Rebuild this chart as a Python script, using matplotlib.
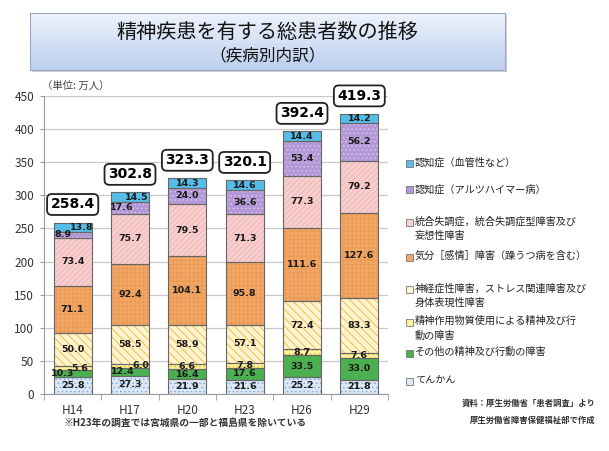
import numpy as np
import matplotlib.pyplot as plt
from matplotlib.patches import Rectangle
from matplotlib.colors import LinearSegmentedColormap

plt.rcParams['font.family'] = ['Noto Sans CJK JP', 'DejaVu Sans']
plt.rcParams['hatch.linewidth'] = 0.6

# data (単位: 万人), stacked bottom -> top
years = ['H14', 'H17', 'H20', 'H23', 'H26', 'H29']
totals = [258.4, 302.8, 323.3, 320.1, 392.4, 419.3]

epilepsy = [25.8, 27.3, 21.9, 21.6, 25.2, 21.8]
other_disorders = [10.3, 12.4, 16.4, 17.6, 33.5, 33.0]
substance = [5.6, 6.0, 6.6, 7.8, 8.7, 7.6]
neurotic = [50.0, 58.5, 58.9, 57.1, 72.4, 83.3]
mood = [71.1, 92.4, 104.1, 95.8, 111.6, 127.6]
schizo = [73.4, 75.7, 79.5, 71.3, 77.3, 79.2]
alzheimer = [8.9, 17.6, 24.0, 36.6, 53.4, 56.2]
vascular = [13.8, 14.5, 14.3, 14.6, 14.4, 14.2]

names = [
    'てんかん',
    'その他の精神及び行動の障害',
    '精神作用物質使用による精神及び行\n動の障害',
    '神経症性障害，ストレス関連障害及び\n身体表現性障害',
    '気分［感情］障害（躁うつ病を含む）',
    '統合失調症，統合失調症型障害及び\n妄想性障害',
    '認知症（アルツハイマー病）',
    '認知症（血管性など）',
]

# (values, face, hatch, hatch colour)
series = [
    (epilepsy, '#dce8f6', '....', '#7fa8d8'),
    (other_disorders, '#4caf50', '', '#4caf50'),
    (substance, '#fff3a0', '....', '#f0c020'),
    (neurotic, '#fff4d0', '\\\\\\\\', '#f2b630'),
    (mood, '#f2a766', '++++', '#e99a52'),
    (schizo, '#f8cfcf', '//////', '#efb2b2'),
    (alzheimer, '#b497d6', '....', '#d6c6ee'),
    (vascular, '#55bde8', '', '#55bde8'),
]

# small sideways nudges so the labels of thin segments don't collide
# (series index, bar index) -> shift in bar units
label_shift = {(1, 0): -0.17, (2, 0): 0.12, (6, 0): -0.17, (7, 0): 0.15,
               (1, 1): -0.13, (2, 1): 0.18, (6, 1): -0.14, (7, 1): 0.12}

fig = plt.figure(figsize=(6.09, 4.51), dpi=100)

# title box with a soft blue gradient
shadow = Rectangle((32 / 609, 1 - 72 / 451), 475 / 609, 57 / 451,
                   transform=fig.transFigure, facecolor='#cfcfcf', edgecolor='none', zorder=-1)
fig.patches.append(shadow)
tax = fig.add_axes([30 / 609, 1 - 70 / 451, 475 / 609, 57 / 451])
grad = np.linspace(0, 1, 100).reshape(-1, 1)
cmap = LinearSegmentedColormap.from_list('tb', ['#eef3fc', '#bccfef'])
tax.imshow(grad, aspect='auto', cmap=cmap, extent=[0, 1, 0, 1])
tax.set_xticks([])
tax.set_yticks([])
for s in tax.spines.values():
    s.set_color('#9aa9c0')
    s.set_linewidth(0.8)
tax.text(0.5, 0.66, '精神疾患を有する総患者数の推移', ha='center', va='center',
         fontsize=14.5, color='#111111', transform=tax.transAxes)
tax.text(0.5, 0.25, '（疾病別内訳）', ha='center', va='center',
         fontsize=12, color='#111111', transform=tax.transAxes)

ax = fig.add_axes([44 / 609, 1 - 394 / 451, 344 / 609, 298 / 451])
x = np.arange(len(years))
width = 0.66
bottom = np.zeros(len(years))
for si, (vals, face, hatch, hc) in enumerate(series):
    vals = np.array(vals)
    ax.bar(x, vals, width, bottom=bottom, color=face, hatch=hatch or None,
           edgecolor=hc, linewidth=0, zorder=2)
    ax.bar(x, vals, width, bottom=bottom, fill=False, edgecolor='#666666',
           linewidth=0.8, zorder=3)
    for xi, b, v in zip(x, bottom, vals):
        dx = label_shift.get((si, xi), 0)
        ax.text(xi + dx, b + v / 2, f'{v:.1f}', ha='center', va='center',
                fontsize=6.8, fontweight='bold', color='#1a1a1a', zorder=4,
                family=['DejaVu Sans'])
    bottom += vals

for xi, top, t in zip(x, bottom, totals):
    ax.annotate(f'{t:.1f}', (xi, top), xytext=(0, 13), textcoords='offset points',
                ha='center', va='center', fontsize=10, fontweight='bold', zorder=5,
                family=['DejaVu Sans'],
                bbox=dict(boxstyle='round,pad=0.25,rounding_size=0.35', fc='white',
                          ec='#222222', lw=1.3))

ax.set_xlim(-0.5, len(years) - 0.5)
ax.set_ylim(0, 450)
ax.set_yticks(np.arange(0, 451, 50))
ax.set_xticks(x)
ax.set_xticklabels(years)
ax.set_xticks(np.arange(-0.5, len(years), 1), minor=True)
ax.tick_params(axis='x', which='major', length=0, pad=7, labelsize=8.5, colors='#333333')
ax.tick_params(axis='x', which='minor', length=4, color='#999999')
ax.tick_params(axis='y', length=3, color='#999999', labelsize=8.5, labelcolor='#333333', pad=4)
ax.grid(axis='y', color='#c8c8c8', linewidth=0.9, zorder=0)
ax.set_axisbelow(True)
for s in ['top', 'right']:
    ax.spines[s].set_visible(False)
ax.spines['left'].set_color('#999999')
ax.spines['bottom'].set_color('#999999')

fig.text(42 / 609, 1 - 86 / 451, '（単位: 万人）', fontsize=7.5, color='#444444',
         ha='left', va='center')

# legend, top entry first
leg_y = [163, 190, 222, 257, 289, 322, 353, 381]
for i, y in enumerate(leg_y):
    _, face, hatch, hc = series[len(series) - 1 - i]
    label = names[len(names) - 1 - i]
    fig.patches.append(Rectangle((406 / 609, 1 - (y + 3.5) / 451), 7 / 609, 7 / 451,
                                 transform=fig.transFigure, facecolor=face,
                                 edgecolor='#777777', linewidth=0.6))
    fig.text(415 / 609, 1 - (y - 6) / 451, label, fontsize=7.3, ha='left', va='top',
             linespacing=1.55, color='#222222')

fig.text(596 / 609, 1 - 403 / 451, '資料：厚生労働省「患者調査」より', fontsize=6,
         fontweight='bold', ha='right', va='center', color='#333333')
fig.text(596 / 609, 1 - 420 / 451, '厚生労働省障害保健福祉部で作成', fontsize=6,
         fontweight='bold', ha='right', va='center', color='#333333')
fig.text(64 / 609, 1 - 423 / 451, '※H23年の調査では宮城県の一部と福島県を除いている',
         fontsize=7, fontweight='bold', ha='left', va='center', color='#333333')

fig.savefig('out.png', dpi=100)
